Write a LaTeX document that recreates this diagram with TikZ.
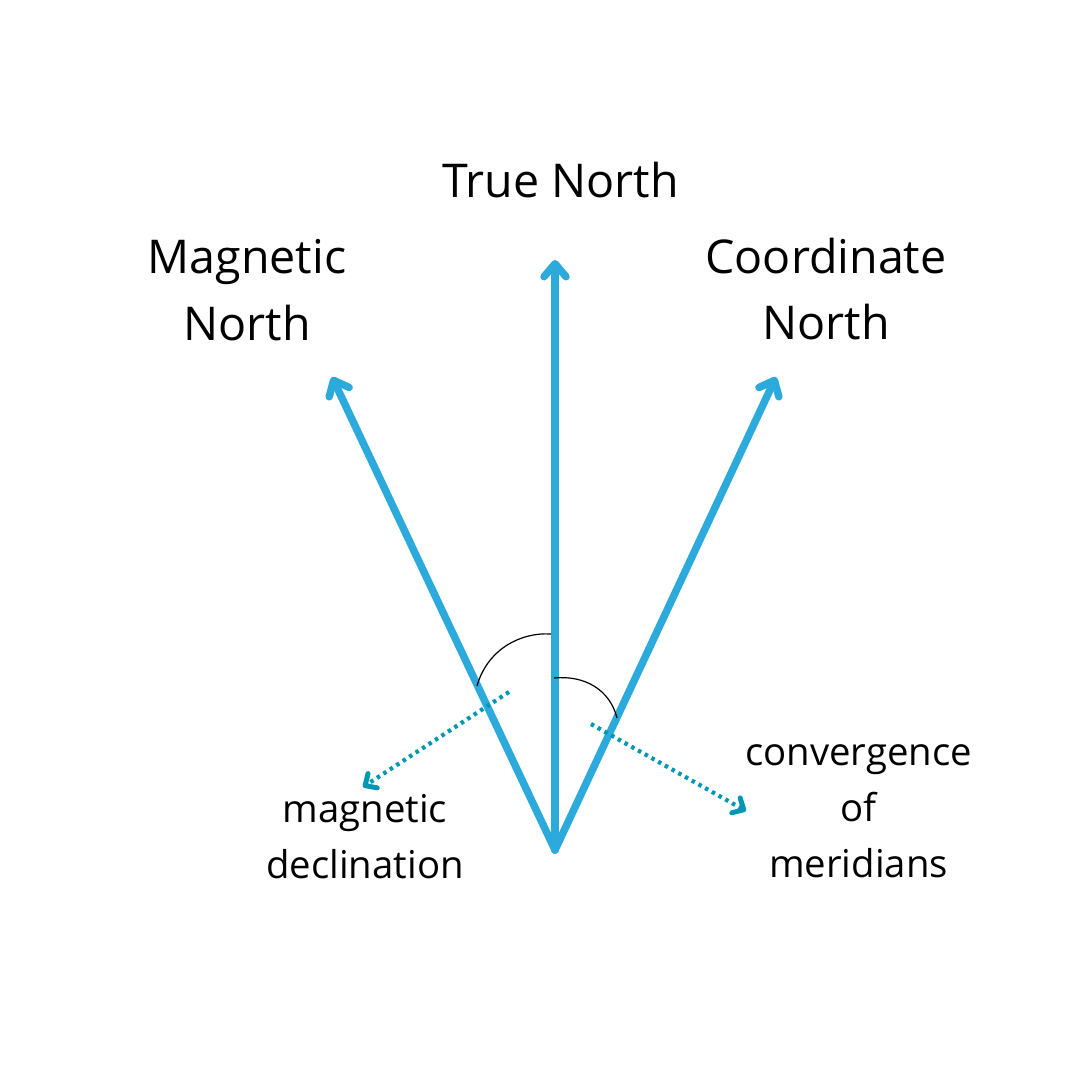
\documentclass[tikz,border=0pt]{standalone}
\usepackage{fontspec}
\setmainfont{Open Sans}
\usetikzlibrary{arrows.meta}
\definecolor{northblue}{RGB}{44,170,219}
\definecolor{dotblue}{RGB}{0,151,178}
\tikzset{
  northarrow/.style={northblue,line width=0.075cm,line cap=round,-{Straight Barb[round,length=0.13cm,width=0.22cm,line width=0.075cm]}},
  dotarrow/.style={dotblue,line width=0.042cm,dash pattern=on 0.035cm off 0.042cm,-{Straight Barb[round,length=0.09cm,width=0.17cm,line width=0.05cm,sep=0pt]}},
  biglabel/.style={align=center,font=\fontsize{13.25}{18.9}\selectfont,inner sep=0pt},
  smalllabel/.style={align=center,font=\fontsize{10.9}{15.9}\selectfont,inner sep=0pt},
  anglearc/.style={black,line width=0.012cm}
}
\begin{document}
\begin{tikzpicture}
\useasboundingbox (0,0) rectangle (10.8,10.8);
\coordinate (O) at (5.55,2.30);
\coordinate (T) at (5.55,8.2);
\coordinate (M) at (3.32,7.03);
\coordinate (C) at (7.76,7.03);
\draw[northarrow] (O) -- (T);
\draw[northarrow] (O) -- (M);
\draw[northarrow] (O) -- (C);
\node[biglabel] (truelabel) at (5.605,9) {True North};
\node[biglabel] (maglabel) at (2.47,7.9) {Magnetic\\North};
\node[biglabel] (coordlabel) at (8.26,7.91) {Coordinate\\North};
\node[smalllabel] (decllabel) at (3.65,2.43) {magnetic\\declination};
\node[smalllabel] (convlabel) at (8.585,2.69) {convergence\\of\\meridians};
% angles
\coordinate (a1) at (4.77,3.94);
\coordinate (a2) at (5.51,4.46);
\coordinate (b1) at (5.54,4.02);
\coordinate (b2) at (6.17,3.62);
\draw[anglearc] (a1) .. controls (4.87,4.3) and (5.2,4.48) .. (a2);
\draw[anglearc] (b1) .. controls (5.85,4.05) and (6.1,3.9) .. (b2);
\coordinate (d1) at (5.09,3.88);
\coordinate (d2) at (3.63,2.93);
\coordinate (e1) at (5.91,3.56);
\coordinate (e2) at (7.46,2.69);
\draw[dotarrow] (d1) -- (d2);
\draw[dotarrow] (e1) -- (e2);
\end{tikzpicture}
\end{document}
